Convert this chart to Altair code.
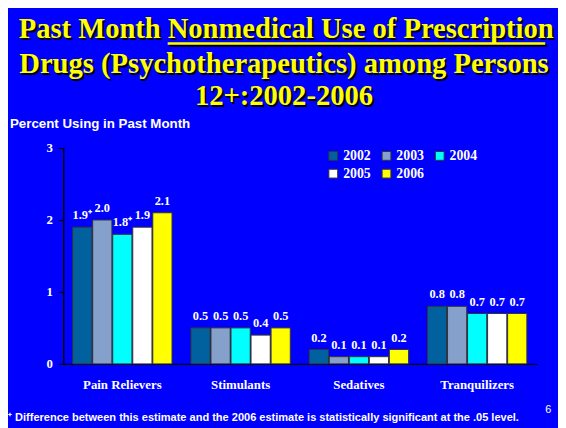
import altair as alt
import pandas as pd

categories = ["Pain Relievers", "Stimulants", "Sedatives", "Tranquilizers"]
years = ["2002", "2003", "2004", "2005", "2006"]
values = {
    "2002": [1.9, 0.5, 0.2, 0.8],
    "2003": [2.0, 0.5, 0.1, 0.8],
    "2004": [1.8, 0.5, 0.1, 0.7],
    "2005": [1.9, 0.4, 0.1, 0.7],
    "2006": [2.1, 0.5, 0.2, 0.7],
}
# significance markers (difference vs 2006 estimate)
significant = {
    "2002": [True, False, False, False],
    "2003": [False, False, False, False],
    "2004": [True, False, False, False],
    "2005": [False, False, False, False],
    "2006": [False, False, False, False],
}
colors = ["#00619E", "#85A1CB", "#00FFFF", "#FFFFFF", "#FFFF00"]
y_ticks = [0, 1, 2, 3]

title_line1a = "Past Month"
title_line1b = "Nonmedical Use of Prescription"
title_line2 = "Drugs (Psychotherapeutics) among Persons"
title_line3 = "12+:2002-2006"
y_title = "Percent Using in Past Month"
footnote = "\u207a Difference between this estimate and the 2006 estimate is statistically significant at the .05 level."
page_no = "6"

rows = []
for y in years:
    for c, v, s in zip(categories, values[y], significant[y]):
        rows.append({"cat": c, "year": y, "value": v,
                     "label": f"{v:.1f}" + ("\u207a" if s else "")})
df = pd.DataFrame(rows)

BG = "#0000FF"
SERIF = "Times New Roman, Liberation Serif, serif"
SANS = "Arial, Liberation Sans, sans-serif"

x_enc = alt.X("cat:N", sort=categories,
              scale=alt.Scale(paddingInner=0.16, paddingOuter=0.08),
              axis=alt.Axis(title=None, ticks=False, labelPadding=15,
                            labelFont=SERIF, labelFontSize=13, labelFontWeight="bold",
                            labelColor="white", domainColor="black", domainWidth=1.5,
                            labelAngle=0))
xo_enc = alt.XOffset("year:N", sort=years, scale=alt.Scale(paddingInner=0.04))
y_scale = alt.Scale(domain=[0, 3])

bars = alt.Chart(df).mark_bar(stroke="#333333", strokeWidth=1).encode(
    x=x_enc,
    xOffset=xo_enc,
    y=alt.Y("value:Q", scale=y_scale,
            axis=alt.Axis(title=None, values=y_ticks, format="d", grid=False,
                          tickSize=5, tickColor="black", domainColor="black",
                          domainWidth=1.5, labelPadding=6,
                          labelFont=SERIF, labelFontSize=13, labelFontWeight="bold",
                          labelColor="white")),
    color=alt.Color("year:N", sort=years,
                    scale=alt.Scale(domain=years, range=colors),
                    legend=alt.Legend(title=None, orient="none", legendX=267, legendY=1,
                                      direction="horizontal", columns=3,
                                      symbolType="square", symbolSize=80,
                                      symbolStrokeColor="#333333", symbolStrokeWidth=1,
                                      symbolOpacity=1, columnPadding=9, rowPadding=4,
                                      labelOffset=3,
                                      labelFont=SERIF, labelFontSize=14,
                                      labelFontWeight="bold", labelColor="white")),
)

labels = alt.Chart(df).mark_text(baseline="bottom", dy=-5, font=SERIF, fontSize=12.5,
                                 fontWeight="bold", color="white").encode(
    x=alt.X("cat:N", sort=categories),
    xOffset=alt.XOffset("year:N", sort=years),
    y=alt.Y("value:Q", scale=y_scale),
    text="label:N",
)


def txt(s, x, y, size, font, weight, color, align="center", baseline="middle"):
    return alt.Chart(pd.DataFrame({"t": [s]})).mark_text(
        font=font, fontSize=size, fontWeight=weight, color=color,
        align=align, baseline=baseline,
    ).encode(x=alt.value(x), y=alt.value(y), text="t:N")


def title_txt(s, x, y, align="center"):
    shadow = txt(s, x + 2, y + 2, 29, SERIF, "bold", "#000000", align)
    main = txt(s, x, y, 29, SERIF, "bold", "#FFFF00", align)
    return [shadow, main]


split_x = 106
tl = []
tl += title_txt(title_line1a, split_x - 7, -121, "right")
tl += title_txt(title_line1b, split_x, -121, "left")
underline_shadow = alt.Chart(pd.DataFrame({"a": [0]})).mark_rule(color="black", strokeWidth=2.5).encode(
    x=alt.value(split_x + 2), x2=alt.value(489 + 2), y=alt.value(-106 + 2))
underline = alt.Chart(pd.DataFrame({"a": [0]})).mark_rule(color="#FFFF00", strokeWidth=2.5).encode(
    x=alt.value(split_x), x2=alt.value(489), y=alt.value(-106))
tl += [underline_shadow, underline]
tl += title_txt(title_line2, 224, -85)
tl += title_txt(title_line3, 224, -53)

others = [
    txt(y_title, -54, -24, 13.5, SANS, "bold", "white", "left"),
    txt(footnote, -56, 274, 11.2, SANS, "bold", "white", "left"),
    txt(page_no, 489, 266, 11, SANS, "normal", "white", "left"),
]

chart = alt.layer(bars, labels, *tl, *others).properties(
    width=480, height=219,
    padding={"left": 56, "top": 139, "right": 22, "bottom": 62},
    autosize=alt.AutoSizeParams(type="none"),
    background=BG,
).configure_view(stroke=None).configure_axis(
    domainCap="square"
)

chart.save("out.html", embed_options={"renderer": "svg", "actions": False})
